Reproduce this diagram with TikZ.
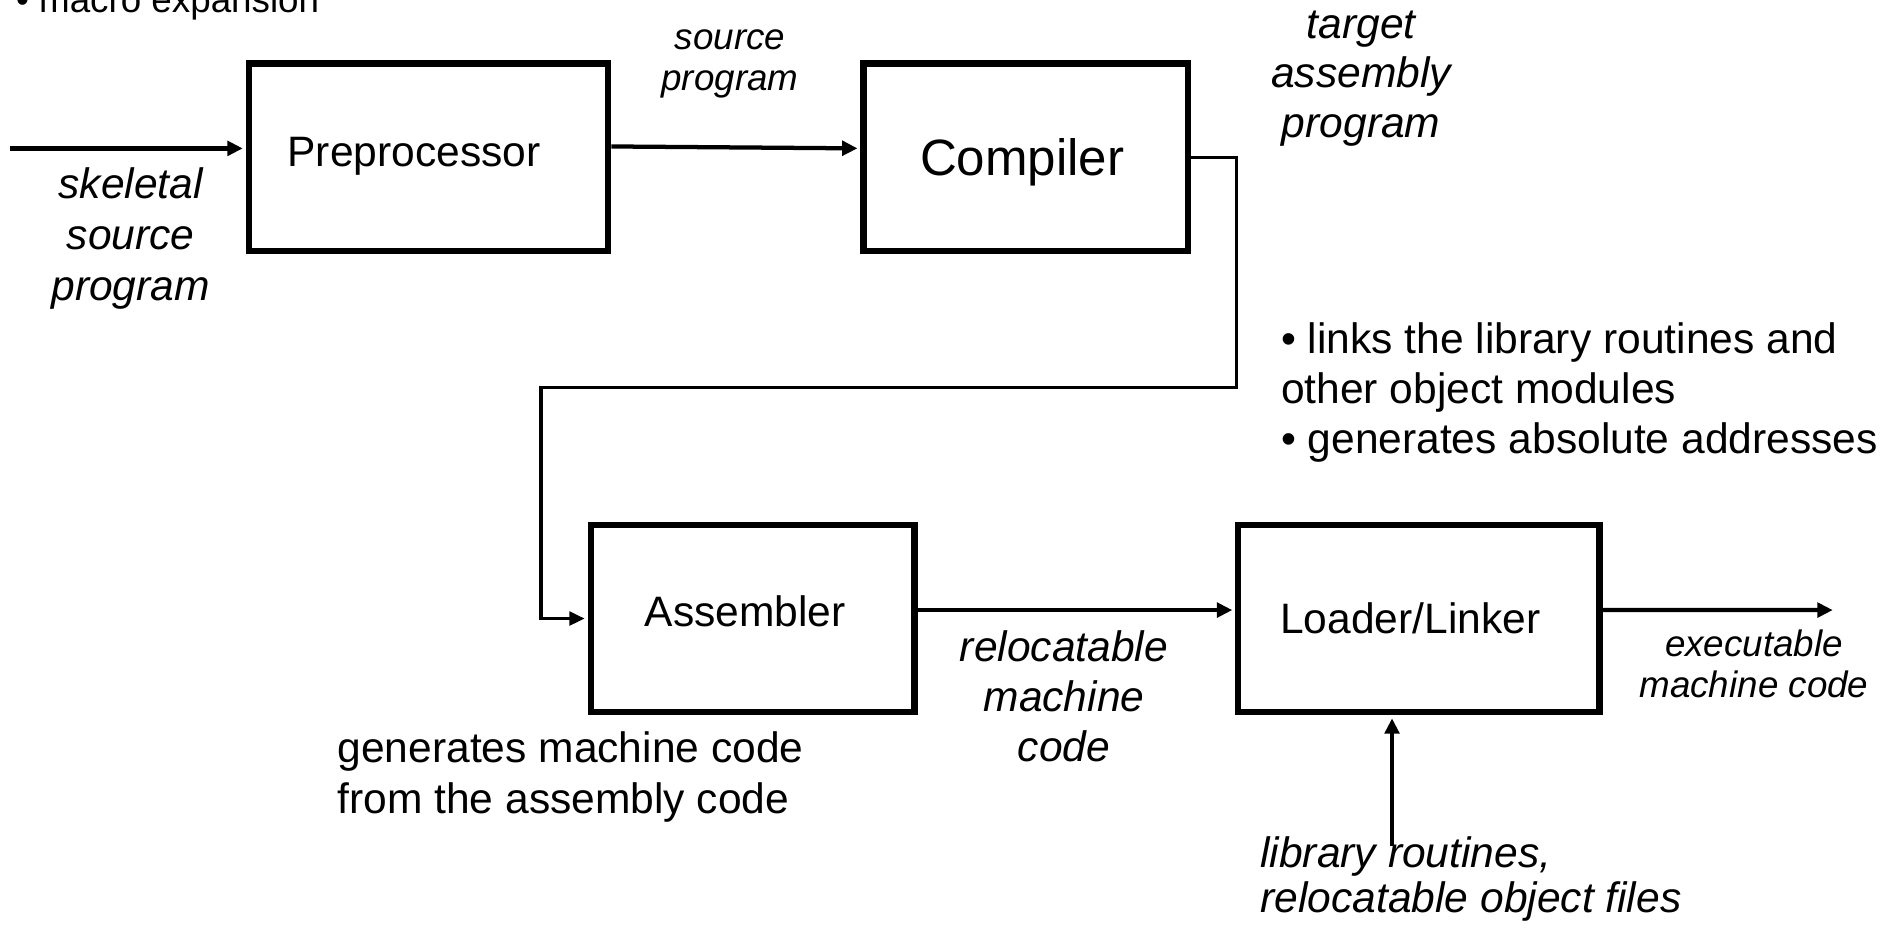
\documentclass[tikz,border=0pt]{standalone}
\usepackage{fontspec}
\setmainfont{Liberation Sans}
\usetikzlibrary{arrows.meta,calc}
\begin{document}
\begin{tikzpicture}[x=0.025cm,y=-0.025cm,
  box/.style={draw,line width=3.6pt,inner sep=0pt,minimum height=3.875cm},
  txt/.style={inner sep=0pt,font=\fontsize{25}{29.9}\selectfont},
  itxt/.style={inner sep=0pt,font=\fontsize{25}{29.9}\selectfont\itshape},
  stxt/.style={inner sep=0pt,font=\fontsize{21.6}{24}\selectfont\itshape},
  conn/.style={line width=2.5pt,-{Triangle[length=9pt,width=8.5pt]},shorten >=1.7pt},
  thinconn/.style={line width=2pt,-{Triangle[length=9pt,width=8pt]},shorten >=1.7pt}
]
\useasboundingbox (0,0) rectangle (1568,766);
\fill[white] (0,0) rectangle (1568,766);

% boxes
\node[box,minimum width=7.425cm] (prebox) at (354,130) {};
\node[box,minimum width=6.7cm] (compbox) at (847.35,130) {};
\node[box,minimum width=6.6875cm] (asmbox) at (621.75,511) {};
\node[box,minimum width=7.4575cm] (loadbox) at (1172.15,511) {};

% box texts
\node[txt,anchor=base] (pretxt) at (342,137.7) {Preprocessor};
\node[inner sep=0pt,font=\fontsize{30}{36}\selectfont,anchor=base] (comptxt) at (844.5,145.4) {Compiler};
\node[txt,anchor=base] (asmtxt) at (615.6,517.7) {Assembler};
\node[txt,anchor=base] (loadtxt) at (1165,523) {Loader/Linker};

% free ends
\coordinate (in) at (8,122.6);
\coordinate (c1) at (1021.5,320);
\coordinate (c2) at (447,320);
\coordinate (out) at (1516.5,504);
\coordinate (lib) at (1150,699);

% connectors
\draw[conn] (in) -- (in -| prebox.west);
\draw[conn] ([yshift=0.225cm]prebox.east) -- ([yshift=0.185cm]compbox.west);
\draw[thinconn] (compbox.east) -| (c1) -- (c2) |- (asmbox.west);
\draw[conn] ([yshift=0.175cm]asmbox.east) -- ([yshift=0.175cm]loadbox.west);
\draw[conn] ([yshift=0.175cm]loadbox.east) -- (out);
\draw[conn] (lib) -- (lib |- loadbox.south);

% labels (anchor=base is the last line's baseline)
\node[inner sep=0pt,font=\fontsize{21.6}{24}\selectfont,anchor=base west] (macro) at (13,10) {• macro expansion};
\node[itxt,align=center,anchor=base] (skel) at (108,248.4) {skeletal\\source\\program};
\node[stxt,align=center,anchor=base] (srcprog) at (603,74.4) {source\\program};
\node[itxt,align=center,anchor=base,font=\fontsize{25}{29}\selectfont\itshape] (target) at (1124.5,113.3) {target\\assembly\\program};
\node[txt,align=left,anchor=base west,font=\fontsize{25}{29.5}\selectfont] (links) at (1058,374.9) {• links the library routines and\\other object modules\\• generates absolute addresses};
\node[txt,align=left,anchor=base west] (gen) at (278.6,672) {generates machine code\\from the assembly code};
\node[itxt,align=center,anchor=base,font=\fontsize{25}{29.4}\selectfont\itshape] (reloc) at (879,629.3) {relocatable\\machine\\code};
\node[stxt,align=center,anchor=base] (exec) at (1449,576.5) {executable\\machine code};
\node[itxt,align=left,anchor=base west,font=\fontsize{25}{26.3}\selectfont\itshape] (library) at (1041,754) {library routines,\\relocatable object files};
\end{tikzpicture}
\end{document}
